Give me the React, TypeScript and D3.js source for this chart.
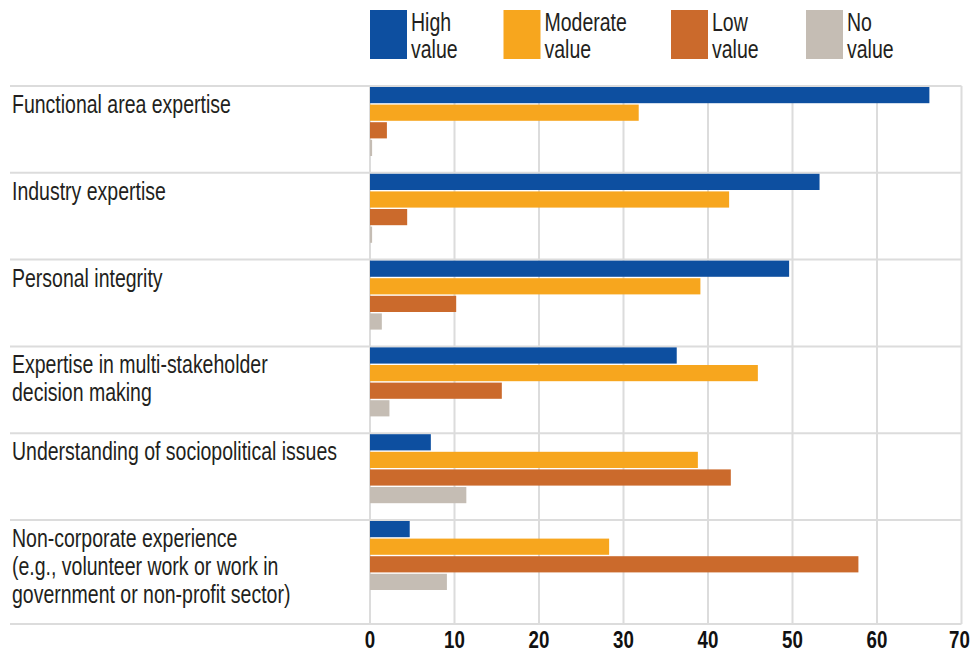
import React from "react";
import * as d3 from "d3";

const categories: string[][] = [
  ["Functional area expertise"],
  ["Industry expertise"],
  ["Personal integrity"],
  ["Expertise in multi-stakeholder", "decision making"],
  ["Understanding of sociopolitical issues"],
  ["Non-corporate experience", "(e.g., volunteer work or work in", "government or non-profit sector)"],
];
const seriesNames = ["High value", "Moderate value", "Low value", "No value"];
const legendLines = [["High", "value"], ["Moderate", "value"], ["Low", "value"], ["No", "value"]];
const highValue = [66.2, 53.2, 49.6, 36.3, 7.2, 4.7];
const moderateValue = [31.8, 42.5, 39.1, 45.9, 38.8, 28.3];
const lowValue = [2.0, 4.4, 10.2, 15.6, 42.7, 57.8];
const noValue = [0.25, 0.25, 1.4, 2.3, 11.4, 9.1];
const ticks = [0, 10, 20, 30, 40, 50, 60, 70];

const colors = ["#0d4fa0", "#f7a61e", "#cb6a2c", "#c5bdb4"];
const textColor = "#231f20";
const gridColor = "#dcdcdc";
const font = "'Liberation Sans', Arial, sans-serif";

const W = 971;
const H = 660;
const x0 = 370;
const x1 = 961.5;
const top = 86;
const rowStep = 86.8;
const bottom = 624;
const legendX = [370, 503.5, 671, 806];

export default function App() {
  const seriesValues = [highValue, moderateValue, lowValue, noValue];
  const catIdx = categories.map((_, i) => String(i));
  const x = d3.scaleLinear().domain([0, 70]).range([x0, x1]);
  const y = d3
    .scaleBand<string>()
    .domain(catIdx)
    .range([top, top + rowStep * categories.length])
    .paddingInner(0)
    .paddingOuter(0);
  const yi = d3
    .scaleBand<string>()
    .domain(seriesNames)
    .range([1, 70])
    .paddingInner(0.08)
    .paddingOuter(0);

  const sx = 0.75;

  return (
    <svg
      width={W}
      height={H}
      style={{ position: "absolute", left: 0, top: 0, background: "#fff" }}
      fontFamily={font}
    >
      {ticks.map((t) => (
        <line
          key={"v" + t}
          x1={x(t)}
          x2={x(t)}
          y1={top}
          y2={bottom}
          stroke={gridColor}
          strokeWidth={2}
        />
      ))}
      {catIdx.map((c) => (
        <line
          key={"h" + c}
          x1={10}
          x2={x(70)}
          y1={y(c)!}
          y2={y(c)!}
          stroke={gridColor}
          strokeWidth={2}
        />
      ))}
      <line x1={10} x2={x(70)} y1={bottom} y2={bottom} stroke={gridColor} strokeWidth={2} />

      {seriesValues.map((vals, si) =>
        vals.map((v, ci) => (
          <rect
            key={si + "-" + ci}
            x={x(0)}
            y={y(String(ci))! + yi(seriesNames[si])!}
            width={x(v) - x(0)}
            height={yi.bandwidth()}
            fill={colors[si]}
          />
        ))
      )}

      {categories.map((lines, ci) => (
        <g key={"c" + ci} transform={`translate(12, ${y(String(ci))! + 27}) scale(${sx},1)`}>
          {lines.map((ln, li) => (
            <text key={li} x={0} y={li * 28} fontSize={26} fill={textColor}>
              {ln}
            </text>
          ))}
        </g>
      ))}

      {ticks.map((t) => (
        <g key={"t" + t} transform={`translate(${x(t) - (t === 70 ? 2 : 0)}, 648) scale(0.78,1)`}>
          <text x={0} y={0} textAnchor="middle" fontSize={24} fontWeight="bold" fill="#111">
            {t}
          </text>
        </g>
      ))}

      {seriesNames.map((s, si) => (
        <g key={"l" + si}>
          <rect x={legendX[si]} y={10} width={37} height={49} fill={colors[si]} />
          <g transform={`translate(${legendX[si] + 41}, 31) scale(${sx},1)`}>
            {legendLines[si].map((ln, li) => (
              <text key={li} x={0} y={li * 27} fontSize={26} fill={textColor}>
                {ln}
              </text>
            ))}
          </g>
        </g>
      ))}
    </svg>
  );
}
